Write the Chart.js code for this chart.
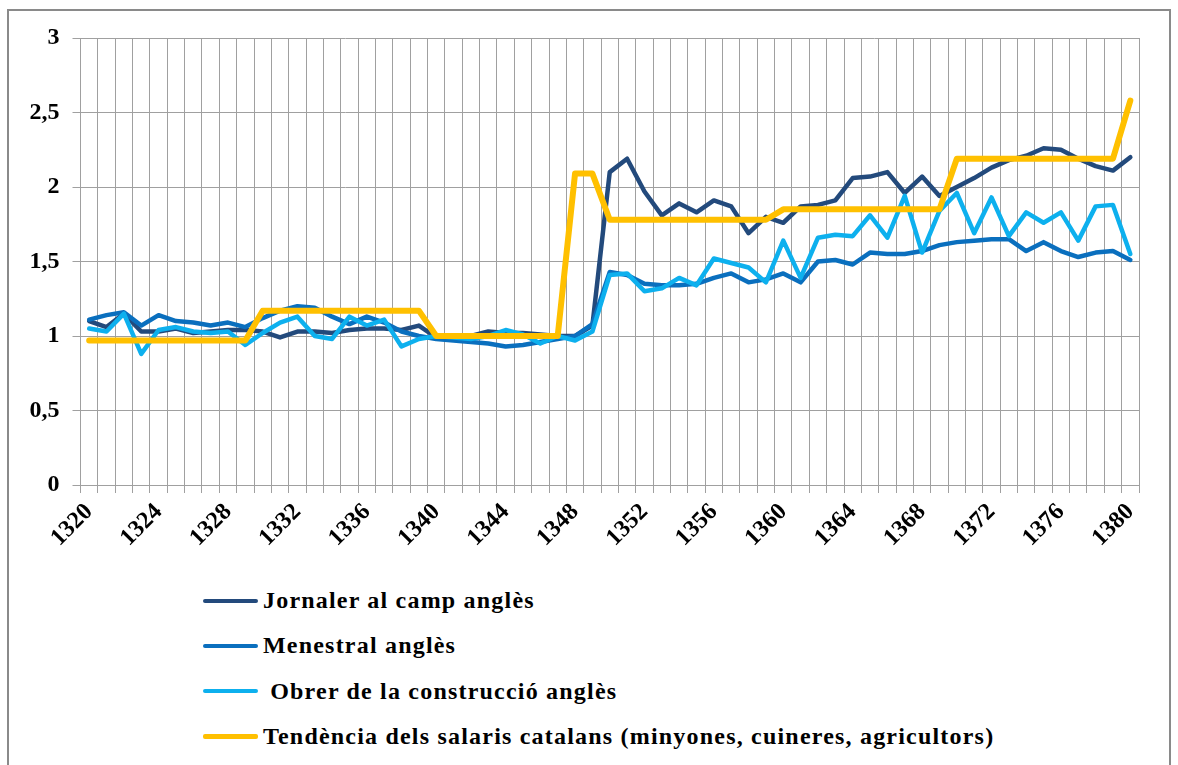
<!DOCTYPE html>
<html>
<head>
<meta charset="utf-8">
<title>Salaris 1320-1380</title>
<script src="https://cdn.jsdelivr.net/npm/chart.js@4.4.1/dist/chart.umd.min.js"></script>
<style>
  body { margin: 0; background: #fff; }
  .frame { position: absolute; left: 7px; top: 9px; width: 1164px; height: 800px; border: 2px solid #8a8a8a; box-sizing: border-box; }
  .chart-box { position: absolute; left: 0; top: 0; width: 1178px; height: 560px; }
  .legend { position: absolute; left: 203px; top: 578px; font: bold 24px "Liberation Serif", "Times New Roman", serif; letter-spacing: 1.2px; color: #000; }
  .legend-row { display: flex; align-items: center; height: 45.3px; white-space: nowrap; }
  .legend-line { width: 55px; height: 4px; border-radius: 2px; margin-right: 5px; }
</style>
</head>
<body>
<div class="frame"></div>
<div class="chart-box"><canvas id="chart" width="1178" height="560"></canvas></div>
<div class="legend" id="legend"></div>

<script>
const years = [
  1320, 1321, 1322, 1323, 1324, 1325, 1326, 1327, 1328, 1329,
  1330, 1331, 1332, 1333, 1334, 1335, 1336, 1337, 1338, 1339,
  1340, 1341, 1342, 1343, 1344, 1345, 1346, 1347, 1348, 1349,
  1350, 1351, 1352, 1353, 1354, 1355, 1356, 1357, 1358, 1359,
  1360, 1361, 1362, 1363, 1364, 1365, 1366, 1367, 1368, 1369,
  1370, 1371, 1372, 1373, 1374, 1375, 1376, 1377, 1378, 1379,
  1380
];

const tickYears = [1320, 1324, 1328, 1332, 1336, 1340, 1344, 1348, 1352, 1356, 1360, 1364, 1368, 1372, 1376, 1380];

const jornaler = [
  1.10, 1.06, 1.15, 1.03, 1.03, 1.05, 1.02, 1.03, 1.04, 1.04,
  1.03, 0.99, 1.03, 1.03, 1.02, 1.04, 1.05, 1.05, 1.04, 1.07,
  0.99, 0.98, 1.00, 1.03, 1.02, 1.02, 1.01, 1.00, 1.00, 1.07,
  2.10, 2.19, 1.97, 1.81, 1.89, 1.83, 1.91, 1.87, 1.69, 1.80,
  1.76, 1.87, 1.88, 1.91, 2.06, 2.07, 2.10, 1.96, 2.07, 1.94,
  2.00, 2.06, 2.13, 2.18, 2.21, 2.26, 2.25, 2.19, 2.14, 2.11,
  2.20
];

const menestral = [
  1.11, 1.14, 1.16, 1.07, 1.14, 1.10, 1.09, 1.07, 1.09, 1.06,
  1.12, 1.17, 1.20, 1.19, 1.13, 1.08, 1.13, 1.09, 1.03, 1.00,
  0.98, 0.97, 0.96, 0.95, 0.93, 0.94, 0.96, 0.98, 1.00, 1.08,
  1.43, 1.41, 1.35, 1.34, 1.34, 1.35, 1.39, 1.42, 1.36, 1.38,
  1.42, 1.36, 1.50, 1.51, 1.48, 1.56, 1.55, 1.55, 1.57, 1.61,
  1.63, 1.64, 1.65, 1.65, 1.57, 1.63, 1.57, 1.53, 1.56, 1.57,
  1.51
];

const obrer = [
  1.05, 1.03, 1.15, 0.88, 1.04, 1.06, 1.03, 1.02, 1.03, 0.94,
  1.02, 1.09, 1.13, 1.00, 0.98, 1.13, 1.07, 1.11, 0.93, 0.98,
  1.00, 0.99, 0.98, 1.00, 1.04, 1.01, 0.95, 1.00, 0.97, 1.03,
  1.41, 1.42, 1.30, 1.32, 1.39, 1.34, 1.52, 1.49, 1.46, 1.36,
  1.64, 1.39, 1.66, 1.68, 1.67, 1.81, 1.66, 1.94, 1.56, 1.84,
  1.96, 1.69, 1.93, 1.67, 1.83, 1.76, 1.83, 1.64, 1.87, 1.88,
  1.55
];

const catalans = [
  0.97, 0.97, 0.97, 0.97, 0.97, 0.97, 0.97, 0.97, 0.97, 0.97,
  1.17, 1.17, 1.17, 1.17, 1.17, 1.17, 1.17, 1.17, 1.17, 1.17,
  1.00, 1.00, 1.00, 1.00, 1.00, 1.00, 1.00, 1.00, 2.09, 2.09,
  1.78, 1.78, 1.78, 1.78, 1.78, 1.78, 1.78, 1.78, 1.78, 1.78,
  1.85, 1.85, 1.85, 1.85, 1.85, 1.85, 1.85, 1.85, 1.85, 1.85,
  2.19, 2.19, 2.19, 2.19, 2.19, 2.19, 2.19, 2.19, 2.19, 2.19,
  2.58
];

const seriesNames = [
  'Jornaler al camp anglès',
  'Menestral anglès',
  ' Obrer de la construcció anglès',
  'Tendència dels salaris catalans (minyones, cuineres, agricultors)'
];
const seriesColors = ['#234a7c', '#0a6fbe', '#0db0ee', '#ffc000'];

const gridColor = '#a0a0a0';
const tickFont = { family: '"Liberation Serif", "Times New Roman", serif', size: 24, weight: 'bold' };

const makeSet = (i, data, width, order) => ({
    label: seriesNames[i],
    data: data,
    borderColor: seriesColors[i],
    backgroundColor: seriesColors[i],
    borderWidth: width,
    pointRadius: 0,
    tension: 0,
    borderJoinStyle: 'round',
    borderCapStyle: 'round',
    order: order,
});

const ctx = document.getElementById('chart').getContext('2d');
new Chart(ctx, {
    type: 'line',
    data: {
        labels: years.map(String),
        datasets: [
            makeSet(0, jornaler, 4.5, 4),
            makeSet(1, menestral, 4.5, 3),
            makeSet(2, obrer, 4.5, 2),
            makeSet(3, catalans, 6, 1),
        ],
    },
    options: {
        responsive: false,
        animation: false,
        devicePixelRatio: 1,
        layout: { padding: { top: 38, right: 39, left: 0, bottom: 0 } },
        plugins: { legend: { display: false }, tooltip: { enabled: false } },
        scales: {
            x: {
                offset: true,
                grid: { offset: true, color: gridColor, lineWidth: 1, tickLength: 8 },
                border: { color: gridColor },
                ticks: {
                    autoSkip: false,
                    maxRotation: 45,
                    minRotation: 45,
                    padding: 5,
                    color: '#000',
                    font: tickFont,
                    callback: (v, i) => tickYears.includes(years[i]) ? String(years[i]) : '',
                },
                afterFit: (s) => { s.height = 75; },
            },
            y: {
                min: 0,
                max: 3,
                grid: { color: gridColor, lineWidth: 1, tickLength: 8 },
                border: { color: gridColor },
                ticks: {
                    stepSize: 0.5,
                    padding: 13,
                    color: '#000',
                    font: tickFont,
                    callback: (v) => String(v).replace('.', ','),
                },
                afterFit: (s) => { s.width = 80.5; },
            },
        },
    },
});

// legend as plain html, one row per series
const legend = document.getElementById('legend');
seriesNames.forEach((name, i) => {
    const row = document.createElement('div');
    row.className = 'legend-row';
    const line = document.createElement('span');
    line.className = 'legend-line';
    line.style.background = seriesColors[i];
    if (i === 3) line.style.height = '5px';
    const txt = document.createElement('span');
    txt.textContent = name;
    txt.style.whiteSpace = 'pre';
    row.appendChild(line);
    row.appendChild(txt);
    legend.appendChild(row);
});
</script>
</body>
</html>
